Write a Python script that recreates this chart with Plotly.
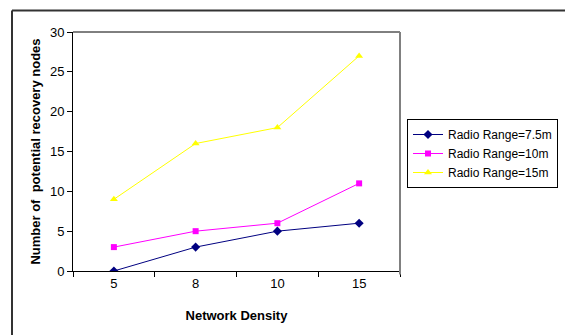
import plotly.graph_objects as go

categories = ["5", "8", "10", "15"]
r75 = [0, 3, 5, 6]
r10 = [3, 5, 6, 11]
r15 = [9, 16, 18, 27]
names = ["Radio Range=7.5m", "Radio Range=10m", "Radio Range=15m"]
yticks = [0, 5, 10, 15, 20, 25, 30]

W, H = 565, 335
L, R, T, B = 73, 400, 31.5, 271.5

fig = go.Figure()
styles = [("#000080", "diamond", 7), ("#FF00FF", "square", 6), ("#FFFF00", "triangle-up", 7)]
for vals, nm, (c, sym, sz) in zip([r75, r10, r15], names, styles):
    fig.add_trace(go.Scatter(x=categories, y=vals, name=nm, mode="lines+markers",
                             line=dict(color=c, width=1),
                             marker=dict(color=c, symbol=sym, size=sz)))

pw, ph = R - L, B - T
def px(x): return (x - L) / pw
def py(y): return 1 - (y - T) / ph

shapes = [
    dict(type="line", xref="paper", yref="paper", x0=px(L), x1=px(R), y0=1, y1=1,
         line=dict(color="black", width=1)),
    dict(type="line", xref="paper", yref="paper", x0=px(R), x1=px(R), y0=1, y1=py(275),
         line=dict(color="#808080", width=2)),
    dict(type="line", xref="paper", yref="paper", x0=px(12), x1=px(12), y0=py(10), y1=py(340),
         line=dict(color="#333333", width=2)),
    dict(type="line", xref="paper", yref="paper", x0=px(12), x1=px(570), y0=py(10), y1=py(10),
         line=dict(color="#333333", width=2)),
]

fig.update_layout(
    width=W, height=H,
    margin=dict(l=L, r=W - R, t=T, b=H - B, autoexpand=False),
    paper_bgcolor="white", plot_bgcolor="white",
    font=dict(family="Arial, Liberation Sans", size=13, color="black"),
    shapes=shapes,
    showlegend=True,
    legend=dict(xref="container", yref="container", x=407 / W, y=1 - 119 / H,
                xanchor="left", yanchor="top",
                bordercolor="black", borderwidth=1, bgcolor="white",
                font=dict(size=12), tracegroupgap=0, itemwidth=30),
    xaxis=dict(type="category", range=[-0.5, 3.5], tickson="boundaries",
               ticks="outside", ticklen=5, tickcolor="black",
               tickfont=dict(size=13),
               showline=True, linecolor="black", linewidth=1, showgrid=False,
               title=dict(text="<b>Network Density</b>", font=dict(size=13), standoff=21)),
    yaxis=dict(range=[0, 30], tickvals=yticks, ticks="outside", ticklen=5, tickcolor="black",
               tickfont=dict(size=13),
               showline=True, linecolor="black", linewidth=1, showgrid=False, zeroline=False,
               title=dict(text="<b>Number of  potential recovery nodes</b>", font=dict(size=13), standoff=6)),
)

fig.write_html("out.html")
